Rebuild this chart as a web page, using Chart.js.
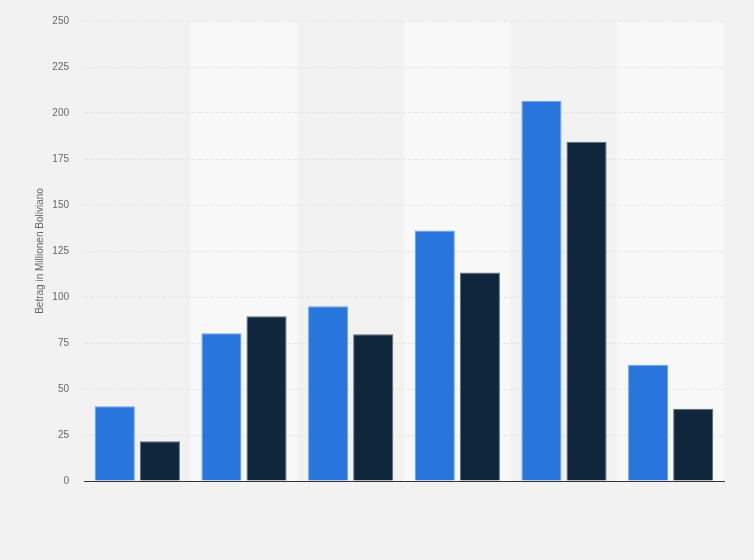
<!DOCTYPE html>
<html>
<head>
<meta charset="utf-8">
<script src="https://cdn.jsdelivr.net/npm/chart.js@4"></script>
<style>
  html, body { margin: 0; padding: 0; background: #f2f2f2; }
  #wrap { width: 754px; height: 560px; }
</style>
</head>
<body>
<div id="wrap"><canvas id="chart" width="754" height="560"></canvas></div>
<script>
// ── Data ───────────────────────────────────────────
const categories = ['Kategorie 1', 'Kategorie 2', 'Kategorie 3', 'Kategorie 4', 'Kategorie 5', 'Kategorie 6'];
const seriesA = [40.6, 80.3, 95.0, 136.2, 206.6, 63.2];
const seriesB = [21.6, 89.6, 79.8, 113.3, 184.4, 39.3];
const yTicks = [0, 25, 50, 75, 100, 125, 150, 175, 200, 225, 250];

// ── Plugins ────────────────────────────────────────
const bgPlugin = {
  id: 'bg',
  beforeDraw(chart) {
    const { ctx, chartArea: a, scales } = chart;
    ctx.save();
    ctx.fillStyle = '#f2f2f2';
    ctx.fillRect(0, 0, chart.width, chart.height);
    // alternating column bands
    const step = (a.right - a.left) / categories.length;
    ctx.fillStyle = '#f8f8f8';
    categories.forEach((c, i) => {
      if (i % 2 === 1) {
        const cx = scales.x.getPixelForValue(i);
        ctx.fillRect(cx - step / 2, a.top, step, a.bottom - a.top);
      }
    });
    ctx.restore();
  }
};

new Chart(document.getElementById('chart'), {
  type: 'bar',
  data: {
    labels: categories,
    datasets: [
      {
        data: seriesA,
        backgroundColor: '#2876dd',
        borderColor: '#6aa3ea',
        borderWidth: 1,
        categoryPercentage: 0.845,
        barPercentage: 0.89,
      },
      {
        data: seriesB,
        backgroundColor: '#10263d',
        borderColor: '#5a6878',
        borderWidth: 1,
        categoryPercentage: 0.845,
        barPercentage: 0.89,
      },
    ],
  },
  options: {
    responsive: false,
    animation: false,
    layout: { padding: { left: 30, right: 30, top: 19, bottom: 71 } },
    plugins: {
      legend: { display: false },
      tooltip: { enabled: false },
    },
    scales: {
      x: {
        grid: { display: false },
        ticks: { display: false },
        border: { display: true, color: '#333333', width: 1 },
      },
      y: {
        min: 0,
        max: 250,
        afterBuildTicks: (s) => { s.ticks = yTicks.map(v => ({ value: v })); },
        afterFit: (s) => { s.width = 54; },
        grid: { color: '#d6d6d6', lineWidth: 1, drawTicks: false },
        border: { display: false, dash: [1, 2] },
        ticks: {
          color: '#666666',
          padding: 15,
          font: { family: 'Liberation Sans', size: 10 },
        },
        title: {
          display: true,
          text: 'Betrag in Millionen Boliviano',
          color: '#666666',
          padding: { top: 4, bottom: 0 },
          font: { family: 'Liberation Sans', size: 10 },
        },
      },
    },
  },
  plugins: [bgPlugin],
});
</script>
</body>
</html>
